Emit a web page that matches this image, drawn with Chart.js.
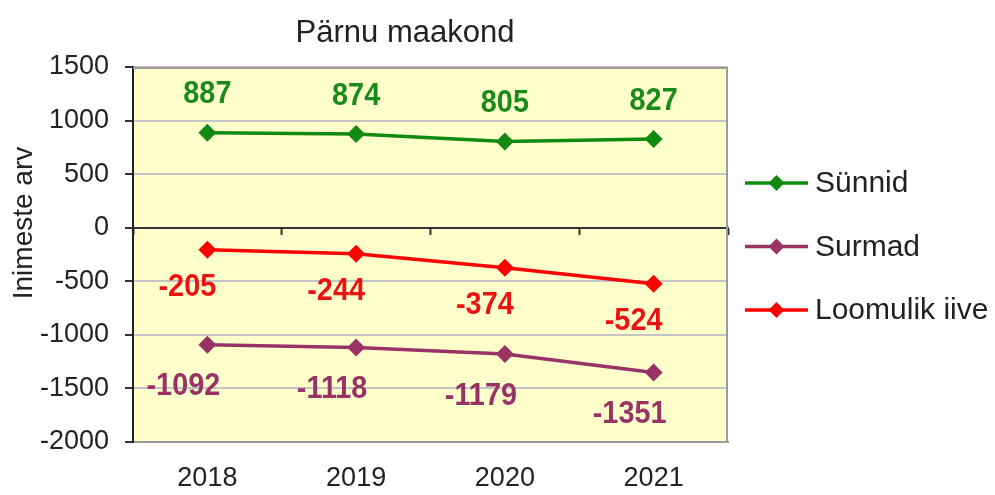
<!DOCTYPE html>
<html><head><meta charset="utf-8">
<script src="https://cdn.jsdelivr.net/npm/chart.js@4"></script>
<style>html,body{margin:0;padding:0;background:#fff}</style>
</head><body>
<canvas id="c" width="995" height="495"></canvas>
<script>
const categories = ['2018', '2019', '2020', '2021'];
const sunnid = [887, 874, 805, 827];
const surmad = [-1092, -1118, -1179, -1351];
const loomulikIive = [-205, -244, -374, -524];
const seriesNames = ['Sünnid', 'Surmad', 'Loomulik iive'];
const chartTitle = 'Pärnu maakond';
const yTitle = 'Inimeste arv';
const yMin = -2000, yMax = 1500, yStep = 500;

const FONT = 'Arial, "Liberation Sans", sans-serif';
const TXT = '#222222';

const decor = {
  id: 'decor',
  beforeDraw(chart) {
    const {ctx, chartArea: a} = chart;
    ctx.save();
    ctx.fillStyle = '#FFFFCC';
    ctx.fillRect(a.left, a.top, a.right - a.left, a.bottom - a.top);
    ctx.restore();
  },
  afterDatasetsDraw(chart) {
    const {ctx} = chart;
    ctx.save();
    ctx.font = 'bold 31px ' + FONT;
    ctx.textAlign = 'center';
    ctx.textBaseline = 'middle';
    chart.data.datasets.forEach((ds, i) => {
      const meta = chart.getDatasetMeta(i);
      ctx.fillStyle = ds.labelColor;
      meta.data.forEach((pt, j) => {
        const x = pt.x + ds.labelDx, y = pt.y + ds.labelDy;
        ctx.save();
        ctx.translate(x, y);
        ctx.scale(0.93, 1);
        ctx.fillText(String(ds.data[j]), 0, 0);
        ctx.restore();
      });
    });
    ctx.restore();
  },
  afterDraw(chart) {
    const {ctx, chartArea: a} = chart;
    ctx.save();
    // plot border top / right
    ctx.strokeStyle = '#9a9a9a';
    ctx.lineWidth = 2;
    ctx.beginPath();
    ctx.moveTo(a.left, a.top + 1);
    ctx.lineTo(a.right - 1, a.top + 1);
    ctx.lineTo(a.right - 1, a.bottom);
    ctx.stroke();
    // title
    ctx.fillStyle = TXT;
    ctx.font = '31px ' + FONT;
    ctx.textAlign = 'center';
    ctx.textBaseline = 'middle';
    ctx.fillText(chartTitle, a.left + 272, 33);
    // y axis title
    ctx.save();
    ctx.translate(24, 223);
    ctx.rotate(-Math.PI / 2);
    ctx.font = '28px ' + FONT;
    ctx.fillText(yTitle, 0, 0);
    ctx.restore();
    // legend
    const lx1 = a.right + 17, lx2 = a.right + 80, ly0 = 183, lstep = 63.5;
    chart.data.datasets.forEach((ds, i) => {
      const y = ly0 + i * lstep;
      ctx.strokeStyle = ds.borderColor;
      ctx.lineWidth = 3.5;
      ctx.beginPath();
      ctx.moveTo(lx1, y);
      ctx.lineTo(lx2, y);
      ctx.stroke();
      const cx = (lx1 + lx2) / 2, r = 8;
      ctx.fillStyle = ds.backgroundColor;
      ctx.beginPath();
      ctx.moveTo(cx, y - r); ctx.lineTo(cx + r, y); ctx.lineTo(cx, y + r); ctx.lineTo(cx - r, y);
      ctx.closePath();
      ctx.fill();
      ctx.fillStyle = TXT;
      ctx.font = '30px ' + FONT;
      ctx.textAlign = 'left';
      ctx.fillText(ds.label, lx2 + 7, y + 1);
    });
    ctx.restore();
  }
};

const mkDs = (label, data, color, labelColor, dx, dy) => ({
  label, data,
  borderColor: color, backgroundColor: color,
  borderWidth: 3.5,
  pointStyle: 'rectRot', pointRadius: 9, pointHoverRadius: 9,
  pointBorderWidth: 0,
  tension: 0,
  xAxisID: 'x', yAxisID: 'y',
  labelColor, labelDx: dx, labelDy: dy
});

new Chart(document.getElementById('c'), {
  type: 'line',
  data: {
    labels: categories,
    datasets: [
      mkDs(seriesNames[0], sunnid, '#128a12', '#1a8a1a', 0, -38),
      mkDs(seriesNames[1], surmad, '#993366', '#993366', -24, 42),
      mkDs(seriesNames[2], loomulikIive, '#ff0000', '#ee1111', -20, 38)
    ]
  },
  options: {
    responsive: false,
    animation: false,
    devicePixelRatio: 1,
    layout: {padding: {left: 0, top: 67, right: 267, bottom: 0}},
    plugins: {legend: {display: false}, title: {display: false}, tooltip: {enabled: false}},
    scales: {
      x: {
        type: 'category',
        position: 'bottom',
        offset: true,
        grid: {drawOnChartArea: false, drawTicks: false},
        border: {display: true, color: '#9a9a9a', width: 2},
        ticks: {color: TXT, font: {family: FONT, size: 27}, padding: 20, maxRotation: 0},
        afterFit(s) { s.height = 53; }
      },
      x2: {
        type: 'category',
        position: {y: 0},
        offset: true,
        grid: {offset: true, drawOnChartArea: false, drawTicks: true, tickLength: 6, tickColor: '#333', tickWidth: 2},
        border: {display: true, color: '#333333', width: 2},
        ticks: {display: false}
      },
      y: {
        min: yMin, max: yMax,
        ticks: {stepSize: yStep, color: TXT, font: {family: FONT, size: 27}, padding: 16,
          callback: v => String(v)},
        grid: {
          color: c => (c.tick && c.tick.value === 0) ? '#404040' : '#c4c4c4',
          lineWidth: 2,
          tickLength: 8, tickColor: '#333', tickWidth: 2
        },
        border: {display: true, color: '#222', width: 2},
        title: {display: false},
        afterFit(s) { s.width = 133; }
      }
    }
  },
  plugins: [decor]
});
</script>
</body></html>
